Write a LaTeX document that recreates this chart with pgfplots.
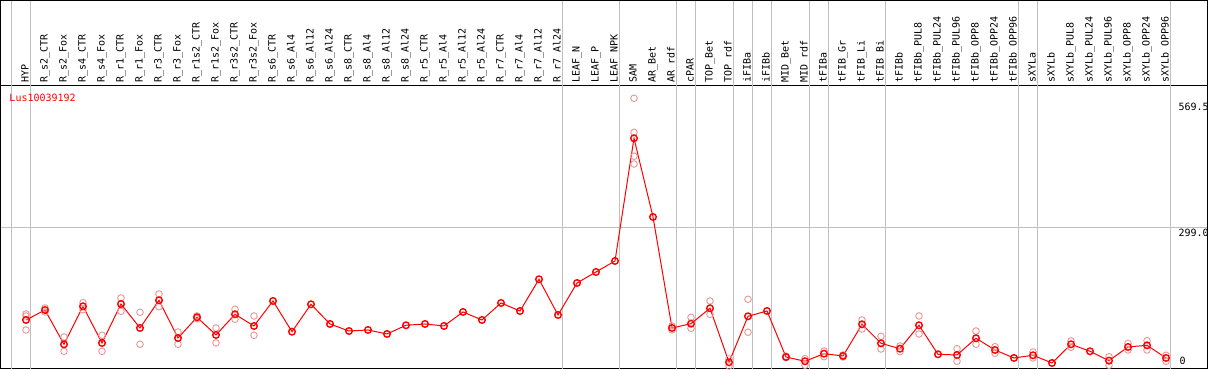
\documentclass[border=0pt]{standalone}
\usepackage{fontspec}
\usepackage{pgfplots}
\pgfplotsset{compat=1.18}
\usepackage{pgfplotstable}
\newfontfamily\monof{DejaVu Sans Mono}
\newcommand{\lab}{\monof\fontsize{10bp}{12bp}\selectfont}
\definecolor{mainred}{RGB}{255,0,0}
\definecolor{repred}{RGB}{234,150,150}
\definecolor{gridgray}{RGB}{192,192,192}

\pgfplotstableread{
x y
1 99.9
2 121.3
3 47.7
4 129.3
5 50.5
6 134.2
7 82.7
8 142.2
9 61.2
10 105.7
11 67.7
12 112.1
13 87.0
14 140.7
15 74.7
16 133.6
17 91.3
18 76.2
19 78.4
20 69.8
21 88.5
22 91.3
23 87.0
24 117.1
25 99.9
26 136.4
27 119.2
28 187.3
29 110.6
30 179.3
31 203.0
32 226.6
33 490.1
34 321.1
35 82.7
36 91.9
37 125.0
38 9.0
39 107.8
40 119.2
41 20.4
42 11.2
43 27.5
44 22.6
45 90.6
46 49.8
47 38.2
48 88.5
49 26.2
50 24.7
51 60.6
52 35.4
53 18.3
54 24.1
55 7.5
56 47.7
57 32.6
58 12.5
59 41.9
60 45.5
61 18.3
}\meantable

\pgfplotstableread{
x y
1 112.8
1 78.4
1 108.5
2 125.6
2 117.1
3 63.4
3 32.6
4 137.0
4 122.0
5 67.0
5 32.6
6 147.1
6 118.6
7 116.4
7 47.7
8 155.7
8 128.4
9 74.1
9 47.7
10 102.7
10 108.5
11 82.7
11 50.5
12 122.9
12 101.4
13 108.5
13 67.0
33 576.0
33 503.0
33 451.5
33 434.9
35 78.4
35 87.0
36 105.7
36 82.0
37 140.7
37 112.1
38 16.1
38 1.1
39 144.3
39 73.5
41 22.0
41 19.0
42 16.8
42 2.6
43 33.3
43 21.0
44 24.7
44 20.4
45 99.9
45 80.5
46 64.9
46 37.6
47 31.8
47 44.0
48 108.5
48 69.8
50 38.2
50 11.2
51 76.2
51 47.7
52 42.5
52 28.4
54 31.1
54 18.3
56 54.8
56 41.2
58 21.0
58 2.6
59 49.8
59 35.4
60 55.4
60 35.4
61 24.1
61 11.2
}\reptable

\begin{document}
\begin{tikzpicture}
\begin{axis}[
  scale only axis, width=1206bp, height=283.7bp,
  xmin=-0.3158, xmax=63.158, ymin=-5.37, ymax=603.9,
  axis line style={black, line width=1bp},
  xtick={1,...,61},
  xticklabels={HYP, R\_s2\_CTR, R\_s2\_Fox, R\_s4\_CTR, R\_s4\_Fox, R\_r1\_CTR, R\_r1\_Fox, R\_r3\_CTR, R\_r3\_Fox, R\_r1s2\_CTR, R\_r1s2\_Fox, R\_r3s2\_CTR, R\_r3s2\_Fox, R\_s6\_CTR, R\_s6\_Al4, R\_s6\_Al12, R\_s6\_Al24, R\_s8\_CTR, R\_s8\_Al4, R\_s8\_Al12, R\_s8\_Al24, R\_r5\_CTR, R\_r5\_Al4, R\_r5\_Al12, R\_r5\_Al24, R\_r7\_CTR, R\_r7\_Al4, R\_r7\_Al12, R\_r7\_Al24, LEAF\_N, LEAF\_P, LEAF\_NPK, SAM, AR\_Bet, AR\_rdf, cPAR, TOP\_Bet, TOP\_rdf, iFIBa, iFIBb, MID\_Bet, MID\_rdf, tFIBa, tFIB\_Gr, tFIB\_Li, tFIB\_Bi, tFIBb, tFIBb\_PUL8, tFIBb\_PUL24, tFIBb\_PUL96, tFIBb\_OPP8, tFIBb\_OPP24, tFIBb\_OPP96, sXYLa, sXYLb, sXYLb\_PUL8, sXYLb\_PUL24, sXYLb\_PUL96, sXYLb\_OPP8, sXYLb\_OPP24, sXYLb\_OPP96},
  xticklabel pos=upper,
  major tick length=0pt,
  xticklabel style={rotate=90, anchor=west, inner xsep=2.6bp, inner ysep=0pt, text height=7.6bp, text depth=2.4bp, font=\lab},
  ytick={299}, yticklabels={},
  ymajorgrids,
  major grid style={gridgray, line width=1bp},
  clip=false,
]
\pgfplotsinvokeforeach{0.226,1.226,29.226,32.226,35.226,36.226,38.226,39.226,40.226,42.226,43.226,46.226,53.226,54.226,61.226}{
  \draw[gridgray, line width=1bp] (axis cs:#1,-5.37) -- ([yshift=84.3bp]axis cs:#1,603.9);
}
\draw[black, line width=1bp] (rel axis cs:0,1) -- ([yshift=84.8bp]rel axis cs:0,1) -- ([yshift=84.8bp]rel axis cs:1,1) -- (rel axis cs:1,1);

\addplot[only marks, mark=o, mark size=3.3bp, repred, mark options={line width=0.9bp}] table {\reptable};
\addplot[mainred, line width=1bp, mark=o, mark size=3.3bp, mark options={line width=1.4bp}] table {\meantable};

\node[anchor=base west, inner sep=0pt, text=mainred, font=\lab] at (axis cs:0.121,569.5) {Lus10039192};
\node[anchor=north west, inner sep=0pt, font=\lab] at ([yshift=-1.7bp]axis cs:61.647,569.5) {569.5};
\node[anchor=north west, inner sep=0pt, font=\lab] at ([yshift=-1.4bp]axis cs:61.647,299) {299.0};
\node[anchor=south west, inner sep=0pt, font=\lab] at ([yshift=1.5bp]axis cs:61.7,0) {0};

\coordinate (BL) at ([xshift=-1bp,yshift=-1bp]rel axis cs:0,0);
\coordinate (TR) at ([xshift=2bp,yshift=85.3bp]rel axis cs:1,1);
\end{axis}
\pgfresetboundingbox
\path (BL) rectangle (TR);
\end{tikzpicture}
\end{document}
